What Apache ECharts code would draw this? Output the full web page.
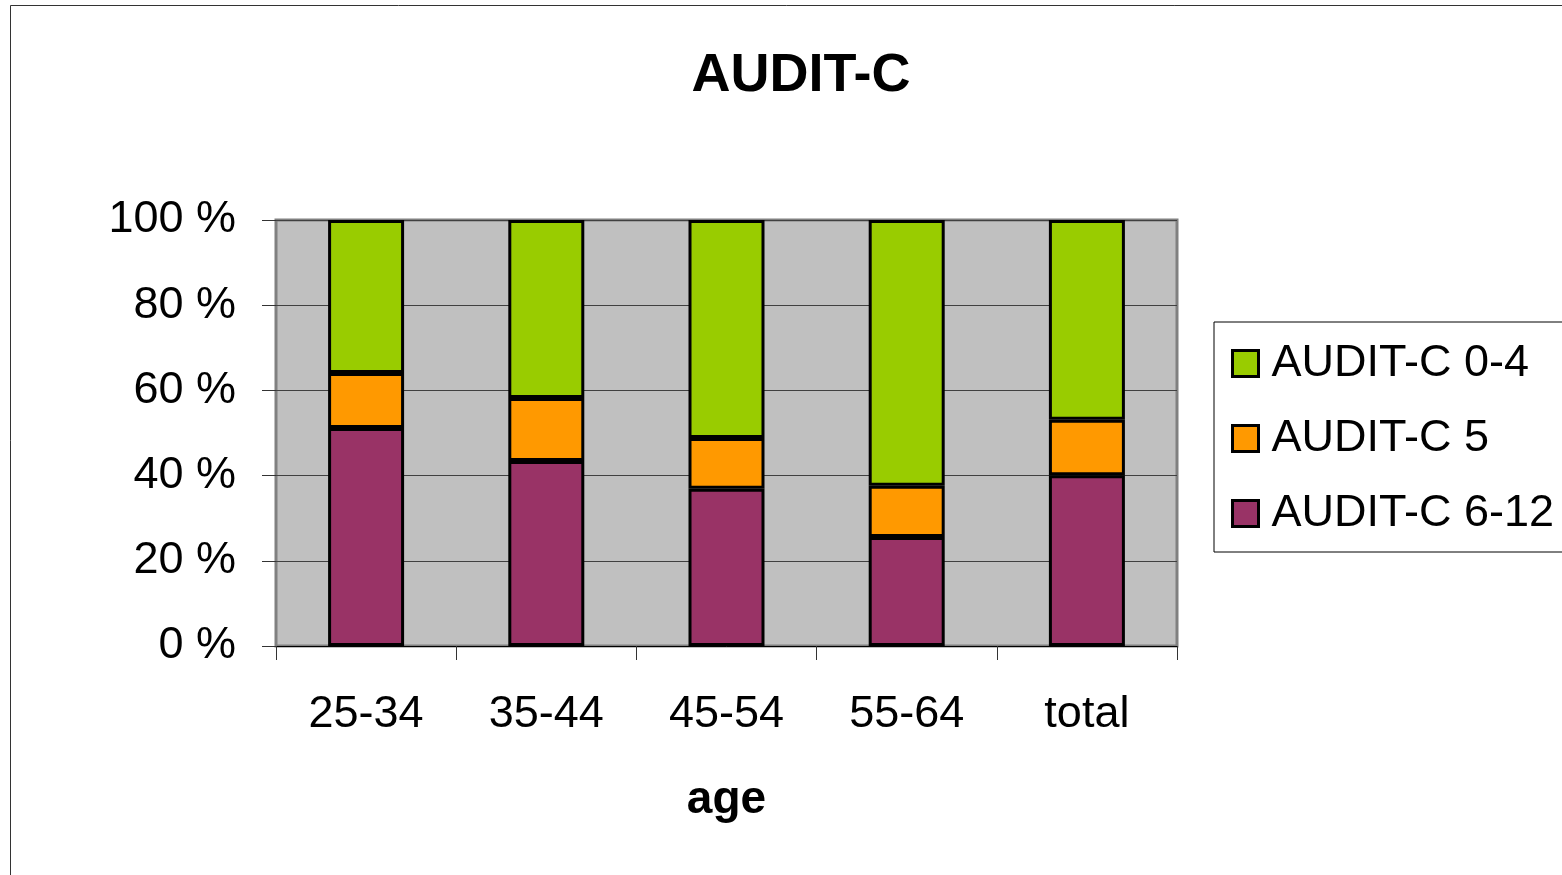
<!DOCTYPE html>
<html>
<head>
<meta charset="utf-8">
<script src="https://cdn.jsdelivr.net/npm/echarts@6/dist/echarts.min.js"></script>
<style>
html,body{margin:0;padding:0;background:#fff;}
#chart{width:1562px;height:875px;}
</style>
</head>
<body>
<div id="chart"></div>
<script>
var categories = ['25-34', '35-44', '45-54', '55-64', 'total'];
var audit612 = [51.2, 43.4, 36.9, 25.6, 40.1];
var audit5 = [12.9, 14.8, 11.9, 12.0, 13.0];
var audit04 = [35.9, 41.8, 51.2, 62.4, 46.9];
var yTicks = [0, 20, 40, 60, 80, 100];

var chart = echarts.init(document.getElementById('chart'));
var font = 'Liberation Sans, Arial, sans-serif';
var barStyle = function (c) {
  return { color: c, borderColor: '#000', borderWidth: 3 };
};
chart.setOption({
  animation: false,
  backgroundColor: '#fff',
  textStyle: { fontFamily: font },
  title: {
    text: 'AUDIT-C',
    left: 796, top: 44, textAlign: 'center',
    textStyle: { fontSize: 54, fontWeight: 'bold', color: '#000', fontFamily: font }
  },
  graphic: [{
    type: 'rect', z: 0, silent: true,
    shape: { x: 10.5, y: 5.5, width: 1600, height: 900 },
    style: { fill: 'none', stroke: '#333', lineWidth: 1 }
  }],
  grid: {
    left: 276, right: 385, top: 220, bottom: 229,
    show: true, backgroundColor: '#C0C0C0', borderColor: '#808080', borderWidth: 3
  },
  legend: {
    orient: 'vertical', left: 1214, top: 322,
    data: ['AUDIT-C 0-4', 'AUDIT-C 5', 'AUDIT-C 6-12'],
    itemWidth: 26, itemHeight: 26, itemGap: 30,
    padding: [19, 20, 16, 17],
    borderColor: '#000', borderWidth: 1,
    icon: 'rect',
    textStyle: { fontSize: 45, color: '#000', fontFamily: font, padding: [0, 0, 0, 8] },
    itemStyle: { borderColor: '#000', borderWidth: 3 }
  },
  xAxis: {
    type: 'category', data: categories,
    name: 'age', nameLocation: 'middle', nameGap: 131,
    nameTextStyle: { fontSize: 46, fontWeight: 'bold', color: '#000', fontFamily: font },
    axisLine: { lineStyle: { color: '#000', width: 1 } },
    axisTick: { show: true, length: 14, lineStyle: { color: '#333' } },
    axisLabel: { fontSize: 45, color: '#000', margin: 46, fontFamily: font }
  },
  yAxis: {
    type: 'value', min: 0, max: 100, interval: 20,
    axisLine: { show: false },
    axisTick: { show: true, length: 14, lineStyle: { color: '#333' } },
    axisLabel: {
      fontSize: 45, color: '#000', margin: 40, fontFamily: font,
      formatter: function (v) { return yTicks.indexOf(v) >= 0 ? v + ' %' : ''; }
    },
    splitLine: { show: true, lineStyle: { color: '#404040', width: 1 } }
  },
  series: [
    { name: 'AUDIT-C 6-12', type: 'bar', stack: 's', data: audit612, barWidth: 76, itemStyle: barStyle('#993366') },
    { name: 'AUDIT-C 5', type: 'bar', stack: 's', data: audit5, barWidth: 76, itemStyle: barStyle('#FF9900') },
    { name: 'AUDIT-C 0-4', type: 'bar', stack: 's', data: audit04, barWidth: 76, itemStyle: barStyle('#99CC00') }
  ]
});
</script>
</body>
</html>
